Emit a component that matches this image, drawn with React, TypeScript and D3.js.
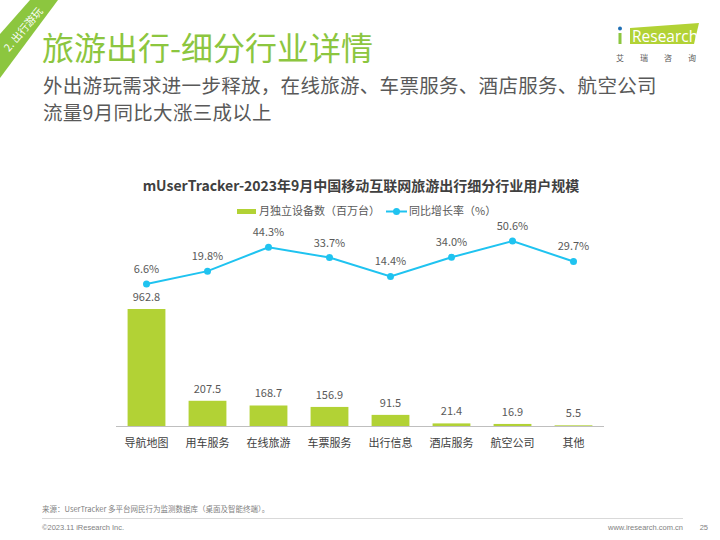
import React from 'react';
import * as d3 from 'd3';

const categories = ['导航地图', '用车服务', '在线旅游', '车票服务', '出行信息', '酒店服务', '航空公司', '其他'];
const users = [962.8, 207.5, 168.7, 156.9, 91.5, 21.4, 16.9, 5.5];
const growth = [6.6, 19.8, 44.3, 33.7, 14.4, 34.0, 50.6, 29.7];

const BAR = '#B2D235';
const LINE = '#1FC3F0';
const CJK = '"Noto Sans CJK SC", "Noto Sans", sans-serif';

export default function App() {
  const x = d3.scaleBand<string>().domain(categories).range([116, 604]).paddingInner(0.38).paddingOuter(0.19);
  const yBar = d3.scaleLinear().domain([0, 962.8]).range([426, 309]);
  const yLine = d3.scaleLinear().domain([0, 50]).range([290.5, 241.65]);
  const cx = (c: string) => (x(c) ?? 0) + x.bandwidth() / 2;

  const line = d3.line<number>()
    .x((_, i) => cx(categories[i]))
    .y(d => yLine(d));

  return (
    <svg width={720} height={540} style={{ position: 'absolute', left: 0, top: 0, background: '#fff' }} fontFamily={CJK}>
      {/* corner band */}
      <polygon points="30,0 58,0 0,78 0,34" fill="#8CC63F" />
      <text x={0} y={0} transform="translate(24,30) rotate(-50)" fill="#fff" fontSize={10.5} textAnchor="middle" dominantBaseline="middle">2. 出行游玩</text>

      {/* header */}
      <text x={42} y={60} fontSize={32} fill="#8CC63F">旅游出行-细分行业详情</text>
      <text x={43} y={93} fontSize={19.5} letterSpacing={0.3} fill="#595959">外出游玩需求进一步释放，在线旅游、车票服务、酒店服务、航空公司</text>
      <text x={43} y={120} fontSize={19.5} letterSpacing={0.3} fill="#595959">流量9月同比大涨三成以上</text>

      {/* logo */}
      <polygon points="630,28 699,23 694,44 630,44" fill="#B2D235" />
      <rect x={618.5} y={33} width={3} height={11} fill="#8CC63F" />
      <circle cx={620} cy={28.5} r={2} fill="#1F6FB5" />
      <text x={632} y={41.5} fontSize={15.5} fill="#fff" fontFamily="'Open Sans', sans-serif">Research</text>
      <text x={616} y={61} fontSize={8} fill="#595959" letterSpacing={16}>艾瑞咨询</text>

      {/* chart title */}
      <text x={361} y={191} fontSize={14} fontWeight="bold" fill="#404040" textAnchor="middle">mUserTracker-2023年9月中国移动互联网旅游出行细分行业用户规模</text>

      {/* legend */}
      <rect x={237} y={209} width={19} height={5} fill={BAR} />
      <text x={259} y={215} fontSize={11} fill="#595959">月独立设备数（百万台）</text>
      <line x1={386} x2={407} y1={211.5} y2={211.5} stroke={LINE} strokeWidth={2} />
      <circle cx={396.5} cy={211.5} r={3.5} fill={LINE} />
      <text x={409} y={215} fontSize={11} fill="#595959">同比增长率（%）</text>

      {/* bars */}
      {users.map((v, i) => (
        <g key={categories[i]}>
          <rect x={x(categories[i])} y={yBar(v)} width={x.bandwidth()} height={yBar(0) - yBar(v)} fill={BAR} />
          <text x={cx(categories[i])} y={yBar(v) - 8} fontSize={11} fill="#595959" textAnchor="middle">{v.toFixed(1)}</text>
          <text x={cx(categories[i])} y={447} fontSize={11} fill="#404040" textAnchor="middle">{categories[i]}</text>
        </g>
      ))}
      <line x1={116} x2={604} y1={426.5} y2={426.5} stroke="#BFBFBF" strokeWidth={1} />

      {/* line */}
      <path d={line(growth) ?? ''} fill="none" stroke={LINE} strokeWidth={2} />
      {growth.map((v, i) => (
        <g key={'g' + i}>
          <circle cx={cx(categories[i])} cy={yLine(v)} r={3.5} fill={LINE} />
          <text x={cx(categories[i])} y={yLine(v) - 11} fontSize={11} fill="#595959" textAnchor="middle">{v.toFixed(1)}%</text>
        </g>
      ))}

      {/* footer */}
      <text x={42} y={512} fontSize={7.5} fill="#7F7F7F">来源：UserTracker 多平台网民行为监测数据库（桌面及智能终端）。</text>
      <line x1={42} x2={683} y1={518.5} y2={518.5} stroke="#D9D9D9" strokeWidth={1} />
      <text x={42} y={530} fontSize={7.5} fill="#7F7F7F" fontFamily="'Liberation Sans', sans-serif">©2023.11 iResearch Inc.</text>
      <text x={683} y={530} fontSize={7.5} fill="#7F7F7F" textAnchor="end" fontFamily="'Liberation Sans', sans-serif">www.iresearch.com.cn</text>
      <text x={708} y={530} fontSize={7.5} fill="#7F7F7F" textAnchor="end" fontFamily="'Liberation Sans', sans-serif">25</text>
    </svg>
  );
}
